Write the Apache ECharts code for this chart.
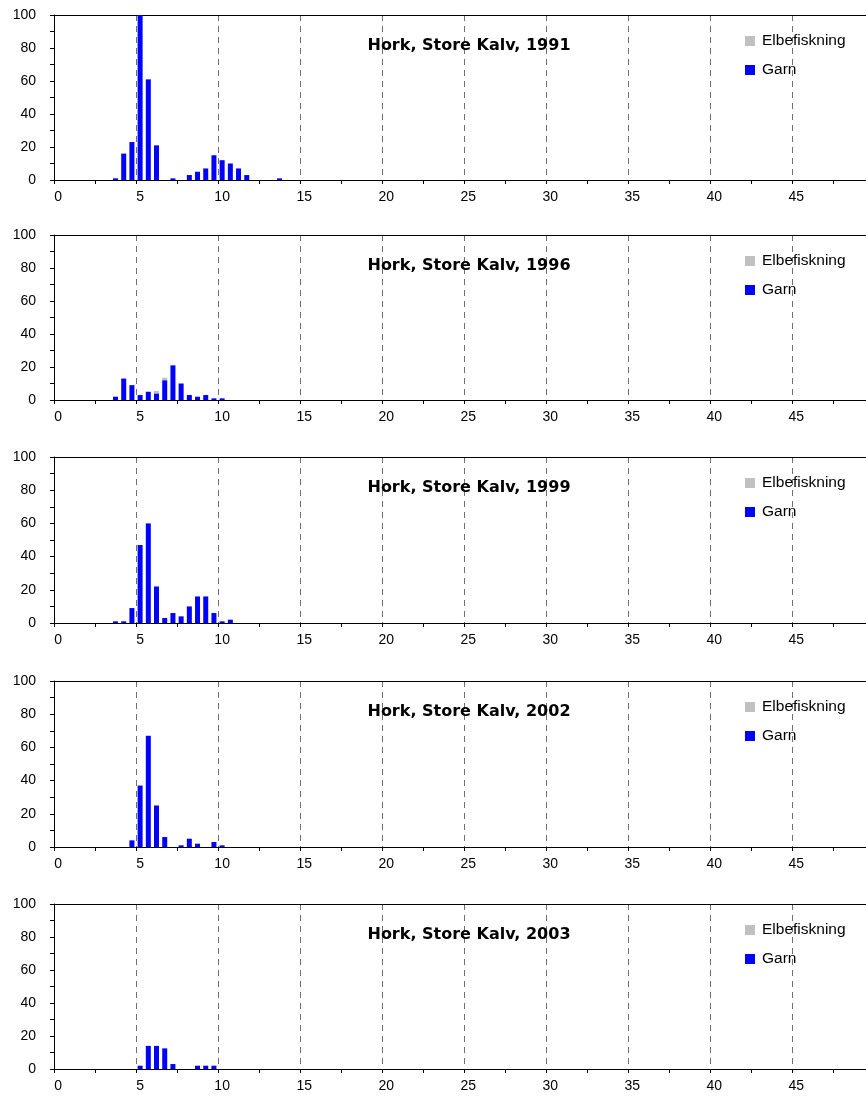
<!DOCTYPE html>
<html>
<head>
<meta charset="utf-8">
<script src="https://cdn.jsdelivr.net/npm/echarts@6/dist/echarts.min.js"></script>
<style>
html,body{margin:0;padding:0;background:#fff;}
#chart{width:866px;height:1104px;}
</style>
</head>
<body>
<div id="chart"></div>
<script>
// Length classes (0.5 cm bins), category labels
const categories = ["0","0.5","1","1.5","2","2.5","3","3.5","4","4.5","5","5.5","6","6.5","7","7.5","8","8.5","9","9.5",
"10","10.5","11","11.5","12","12.5","13","13.5","14","14.5","15","15.5","16","16.5","17","17.5","18","18.5","19","19.5",
"20","20.5","21","21.5","22","22.5","23","23.5","24","24.5","25","25.5","26","26.5","27","27.5","28","28.5","29","29.5",
"30","30.5","31","31.5","32","32.5","33","33.5","34","34.5","35","35.5","36","36.5","37","37.5","38","38.5","39","39.5",
"40","40.5","41","41.5","42","42.5","43","43.5","44","44.5","45","45.5","46","46.5","47","47.5","48","48.5","49"];

const titles = ["Hork, Store Kalv, 1991","Hork, Store Kalv, 1996","Hork, Store Kalv, 1999","Hork, Store Kalv, 2002","Hork, Store Kalv, 2003"];
const seriesNames = ["Elbefiskning","Garn"];

// Garn
const garnBins1991 = [3.5,4,4.5,5,5.5,6,7,8,8.5,9,9.5,10,10.5,11,11.5,13.5];
const garnVals1991 = [1,16,23,100,61,21,1,3,5,7,15,12,10,7,3,1];
const garnBins1996 = [3.5,4,4.5,5,5.5,6,6.5,7,7.5,8,8.5,9,9.5,10];
const garnVals1996 = [2,13,9,3,5,4,12,21,10,3,2,3,1,1];
const garnBins1999 = [3.5,4,4.5,5,5.5,6,6.5,7,7.5,8,8.5,9,9.5,10,10.5];
const garnVals1999 = [1,1,9,47,60,22,3,6,4,10,16,16,6,1,2];
const garnBins2002 = [4.5,5,5.5,6,6.5,7.5,8,8.5,9.5,10];
const garnVals2002 = [4,37,67,25,6,1,5,2,3,1];
const garnBins2003 = [5,5.5,6,6.5,7,8.5,9,9.5];
const garnVals2003 = [2,14,14,12.5,3,2,2,2];

// Elbefiskning
const elbBins1991 = [];
const elbVals1991 = [];
const elbBins1996 = [6,6.5];
const elbVals1996 = [1.5,1.5];
const elbBins1999 = [];
const elbVals1999 = [];
const elbBins2002 = [];
const elbVals2002 = [];
const elbBins2003 = [];
const elbVals2003 = [];

const yTicks = [0,20,40,60,80,100];

const panels = [
  {garn:[garnBins1991,garnVals1991], elb:[elbBins1991,elbVals1991]},
  {garn:[garnBins1996,garnVals1996], elb:[elbBins1996,elbVals1996]},
  {garn:[garnBins1999,garnVals1999], elb:[elbBins1999,elbVals1999]},
  {garn:[garnBins2002,garnVals2002], elb:[elbBins2002,elbVals2002]},
  {garn:[garnBins2003,garnVals2003], elb:[elbBins2003,elbVals2003]}
];

const tops = [15,235,457,681,904];
const heights = [165,165,166,166,165];
const FONT = '"Liberation Sans", Arial, sans-serif';

function pairs(b, v){ return b.map((x,i)=>[String(x), v[i]]); }

const grid=[], xAxis=[], yAxis=[], series=[], title=[], legend=[];
panels.forEach((p,i)=>{
  grid.push({left:54, right:-3, top:tops[i], height:heights[i], containLabel:false});
  xAxis.push({
    type:'category', gridIndex:i, data:categories, boundaryGap:true, position:'bottom',
    axisLine:{show:true, lineStyle:{color:'#000', width:1}},
    axisTick:{show:true, length:4, interval:(idx)=>idx%5===0, lineStyle:{color:'#000'}},
    axisLabel:{show:true, interval:(idx)=>idx%10===0, margin:10, color:'#000', fontSize:14, fontFamily:FONT},
    splitLine:{show:true, interval:(idx)=>idx%10===0 && idx>0, lineStyle:{color:'#707070', type:[6,5], width:1}}
  });
  xAxis.push({
    type:'category', gridIndex:i, data:categories, boundaryGap:true, position:'top',
    axisLine:{show:true, lineStyle:{color:'#000', width:1}},
    axisTick:{show:false}, axisLabel:{show:false}, splitLine:{show:false}
  });
  yAxis.push({
    type:'value', gridIndex:i, min:yTicks[0], max:yTicks[yTicks.length-1], interval:20,
    axisLine:{show:true, lineStyle:{color:'#000', width:1}},
    axisTick:{show:true, length:4, inside:false, lineStyle:{color:'#000'}},
    minorTick:{show:true, splitNumber:2, length:4, lineStyle:{color:'#000'}},
    axisLabel:{margin:18, color:'#000', fontSize:14, fontFamily:FONT},
    splitLine:{show:false}
  });
  series.push({
    name:seriesNames[1], type:'bar', xAxisIndex:2*i, yAxisIndex:i, stack:'s'+i,
    barWidth:5, itemStyle:{color:'#0000ff'}, data:pairs(p.garn[0], p.garn[1]), animation:false
  });
  series.push({
    name:seriesNames[0], type:'bar', xAxisIndex:2*i, yAxisIndex:i, stack:'s'+i,
    barWidth:5, itemStyle:{color:'#c0c0c0'}, data:pairs(p.elb[0], p.elb[1]), animation:false
  });
  title.push({
    text:titles[i], left:469, top:tops[i]+23, textAlign:'center', padding:0,
    textStyle:{fontFamily:'"DejaVu Sans", sans-serif', fontWeight:'bold', fontSize:16, color:'#000'}
  });
  legend.push({
    data:seriesNames, orient:'vertical', left:745, top:tops[i]+18, padding:0,
    itemWidth:10, itemHeight:10, itemGap:13, icon:'rect', selectedMode:false,
    textStyle:{fontFamily:FONT, fontSize:15.5, color:'#000', lineHeight:16, padding:[0,0,0,2]}
  });
});

const chart = echarts.init(document.getElementById('chart'), null, {renderer:'canvas'});
chart.setOption({backgroundColor:'#fff', animation:false, grid, xAxis, yAxis, series, title, legend});
</script>
</body>
</html>
